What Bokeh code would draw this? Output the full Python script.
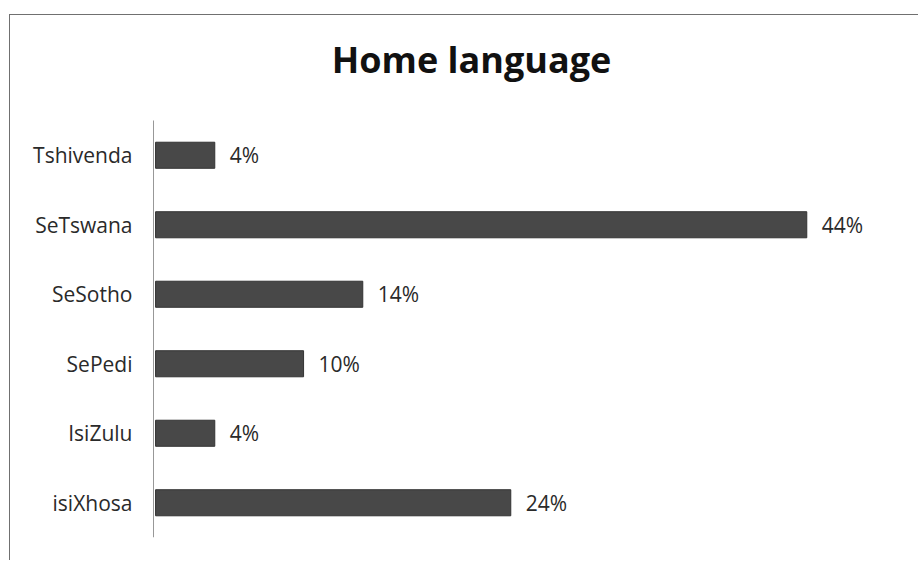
from bokeh.plotting import figure
from bokeh.models import Range1d, ColumnDataSource, FixedTicker
from bokeh.core.properties import value
from bokeh.embed import file_html
from bokeh.resources import INLINE

categories = ["Tshivenda", "SeTswana", "SeSotho", "SePedi", "IsiZulu", "isiXhosa"]
percents = [4, 44, 14, 10, 4, 24]
labels = [f"{v}%" for v in percents]
title_text = "Home language"

FONT = "Open Sans"

n = len(categories)
ypos = [n - 1 - i for i in range(n)]  # first category at the top
src = ColumnDataSource(dict(cat=categories, y=ypos, val=percents, lab=labels))

p = figure(width=909, height=546, output_backend="svg", toolbar_location=None,
           x_range=Range1d(-0.14, 49.86),
           y_range=Range1d(-0.5, 7.011),
           min_border_left=143, min_border_right=26, min_border_top=0, min_border_bottom=24,
           styles={"margin-left": "9px", "margin-top": "14px",
                   "border-left": "1px solid #707070", "border-top": "1px solid #707070"})

p.hbar(y="y", right="val", left=0, height=0.375, source=src,
       fill_color="#484848", line_color="#333333", line_width=1)

p.text(x="val", y="y", text="lab", source=src, x_offset=15,
       text_font=value(FONT), text_font_size="21px", text_color="#2a2a2a",
       text_baseline="middle", text_align="left")

# category axis line (spans only the category band)
p.segment(x0=[-0.14], y0=[-0.5], x1=[-0.14], y1=[n - 0.5], line_color="#333333", line_width=1)

# chart title
p.text(x=[21.35], y=[6.379], text=[title_text], text_font=value(FONT),
       text_font_size="36px", text_font_style="bold", text_color="#111111",
       text_align="center", text_baseline="middle")

p.xaxis.visible = False
p.xgrid.visible = False
p.ygrid.visible = False
p.outline_line_color = None
p.yaxis.ticker = FixedTicker(ticks=ypos)
p.yaxis.major_label_overrides = {y: c for y, c in zip(ypos, categories)}
p.yaxis.axis_line_color = None
p.yaxis.major_tick_line_color = None
p.yaxis.minor_tick_line_color = None
p.yaxis.major_label_standoff = 15
p.yaxis.major_label_text_font = FONT
p.yaxis.major_label_text_font_size = "21px"
p.yaxis.major_label_text_color = "#2a2a2a"

open("out.html", "w").write(file_html(p, INLINE))
